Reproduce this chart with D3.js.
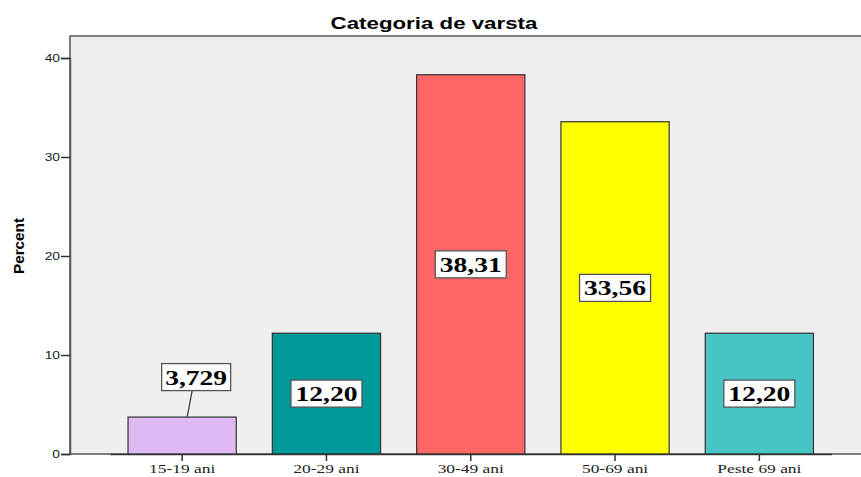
<!DOCTYPE html>
<html>
<head>
<meta charset="utf-8">
<script src="https://cdn.jsdelivr.net/npm/d3@7"></script>
<style>
  body { margin: 0; background: #fff; }
</style>
</head>
<body>
<div id="chart"></div>
<script>
const categories = ["15-19 ani", "20-29 ani", "30-49 ani", "50-69 ani", "Peste 69 ani"]
const percents = [3.729, 12.20, 38.31, 33.56, 12.20]
const valueLabels = ["3,729", "12,20", "38,31", "33,56", "12,20"]
const barColors = ["#dfb9f3", "#009999", "#ff6666", "#ffff00", "#48c3c6"]
const yTicks = [0, 10, 20, 30, 40]

const width = 861, height = 477
const plot = {left: 70, top: 36, right: 870, bottom: 454}

// the original picture is a bit wide, so text is stretched sideways
function stretch(sel, f) {
    sel.each(function() {
        let w = this.getComputedTextLength()
        d3.select(this).attr("textLength", w * f).attr("lengthAdjust", "spacingAndGlyphs")
    })
}

let svg = d3.select("#chart")
    .append("svg")
    .attr("width", width)
    .attr("height", height)

// plot background
svg.append("rect")
    .attr("x", plot.left)
    .attr("y", plot.top)
    .attr("width", plot.right - plot.left)
    .attr("height", plot.bottom - plot.top)
    .attr("fill", "#efefef")
    .attr("stroke", "#555")
    .attr("stroke-width", 1.5)

let y = d3.scaleLinear()
    .domain([0, 40])
    .range([plot.bottom, 58])

let x = d3.scaleBand()
    .domain(categories)
    .range([110, 831.5])
    .paddingInner(0.25)
    .paddingOuter(0.125)

let rows = categories.map((c, i) => ({cat: c, val: percents[i], label: valueLabels[i], color: barColors[i]}))

svg.selectAll("rect.bar").data(rows).enter()
    .append("rect")
    .attr("class", "bar")
    .attr("x", d => x(d.cat))
    .attr("y", d => y(d.val))
    .attr("width", x.bandwidth())
    .attr("height", d => y(0) - y(d.val))
    .attr("fill", d => d.color)
    .attr("stroke", "#333")
    .attr("stroke-width", 1.2)

// y axis
let yAxis = svg.append("g")
    .attr("transform", `translate(${plot.left},0)`)
    .call(d3.axisLeft(y).tickValues(yTicks).tickSize(9).tickPadding(1))
yAxis.select(".domain").attr("stroke", "#555").attr("stroke-width", 1.5)
yAxis.selectAll(".tick line").attr("stroke", "#333").attr("stroke-width", 1.5)
yAxis.selectAll("text")
    .attr("font-family", "Liberation Sans, Arial, sans-serif")
    .attr("font-size", 11.5)
    .attr("fill", "#222")
    .call(stretch, 1.2)

// x axis
let xAxis = svg.append("g")
    .attr("transform", `translate(0,${plot.bottom})`)
    .call(d3.axisBottom(x).tickSize(7).tickPadding(3).tickSizeOuter(0))
xAxis.select(".domain").attr("stroke", "#333").attr("stroke-width", 1.5)
xAxis.selectAll(".tick line").attr("stroke", "#333").attr("stroke-width", 1.5)
xAxis.selectAll("text")
    .attr("font-family", "Liberation Serif, Times New Roman, serif")
    .attr("font-size", 12)
    .attr("fill", "#222")
    .call(stretch, 1.45)

// title
svg.append("text")
    .attr("x", 434)
    .attr("y", 29)
    .attr("text-anchor", "middle")
    .attr("font-family", "Liberation Sans, Arial, sans-serif")
    .attr("font-weight", "bold")
    .attr("font-size", 16.5)
    .text("Categoria de varsta")
    .call(stretch, 1.35)

// y label
svg.append("text")
    .attr("transform", "translate(24,246) rotate(-90)")
    .attr("text-anchor", "middle")
    .attr("font-family", "Liberation Sans Narrow, Liberation Sans, Arial, sans-serif")
    .attr("font-weight", "bold")
    .attr("font-size", 15)
    .text("Percent")
    .attr("textLength", 56)
    .attr("lengthAdjust", "spacingAndGlyphs")

// value labels: centered in bar, small bars get a callout above
let labels = svg.append("g")
rows.forEach(d => {
    let cx = x(d.cat) + x.bandwidth() / 2
    let small = d.val < 6
    let lx = small ? cx + 14 : cx
    let ly = small ? y(d.val) - 40 : y(d.val / 2)
    let bw = small ? 69 : 71, bh = 27
    if (small) {
        labels.append("line")
            .attr("x1", lx - 4).attr("y1", ly + bh / 2)
            .attr("x2", cx + 5).attr("y2", y(d.val))
            .attr("stroke", "#444").attr("stroke-width", 1.3)
    }
    labels.append("rect")
        .attr("x", lx - bw / 2)
        .attr("y", ly - bh / 2)
        .attr("width", bw)
        .attr("height", bh)
        .attr("fill", "#fff")
        .attr("stroke", "#555")
        .attr("stroke-width", 1.3)
    labels.append("text")
        .attr("x", lx)
        .attr("y", ly + 7.5)
        .attr("text-anchor", "middle")
        .attr("font-family", "Liberation Serif, Times New Roman, serif")
        .attr("font-weight", "bold")
        .attr("font-size", 21)
        .text(d.label)
        .attr("textLength", 62)
        .attr("lengthAdjust", "spacingAndGlyphs")
})
</script>
</body>
</html>
